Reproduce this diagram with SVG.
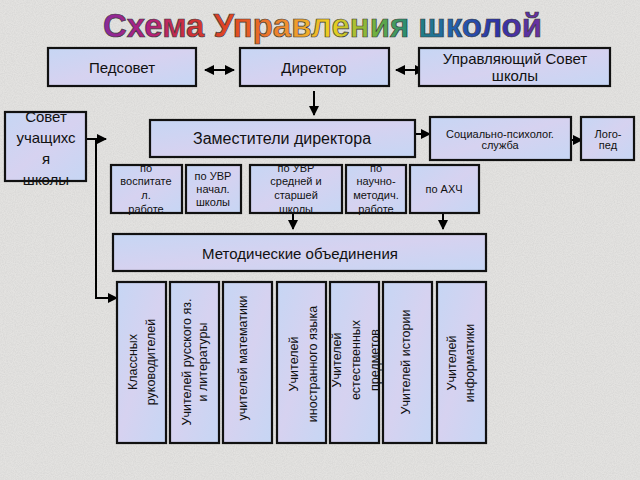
<svg xmlns="http://www.w3.org/2000/svg" width="640" height="480" viewBox="0 0 640 480">
<defs>
  <linearGradient id="rainbow" gradientUnits="userSpaceOnUse" x1="103" y1="0" x2="542" y2="0">
    <stop offset="0" stop-color="#8a2a9a"/>
    <stop offset="0.1" stop-color="#b02080"/>
    <stop offset="0.2" stop-color="#d03035"/>
    <stop offset="0.3" stop-color="#e44a20"/>
    <stop offset="0.42" stop-color="#f09030"/>
    <stop offset="0.52" stop-color="#eed020"/>
    <stop offset="0.62" stop-color="#70b040"/>
    <stop offset="0.7" stop-color="#208878"/>
    <stop offset="0.8" stop-color="#2060b0"/>
    <stop offset="0.9" stop-color="#3032a8"/>
    <stop offset="1" stop-color="#7030a0"/>
  </linearGradient>
  <linearGradient id="boxfill" x1="0" y1="0" x2="1" y2="1">
    <stop offset="0" stop-color="#c6d6f4"/>
    <stop offset="0.5" stop-color="#d6d2f0"/>
    <stop offset="1" stop-color="#c6d6f4"/>
  </linearGradient>
  <filter id="noise" x="0" y="0" width="100%" height="100%">
    <feTurbulence type="fractalNoise" baseFrequency="0.9" numOctaves="2" seed="3"/>
    <feColorMatrix type="matrix" values="0 0 0 0 0.5  0 0 0 0 0.5  0 0 0 0 0.5  0 0 0 -1.6 1.1"/>
  </filter>
  <marker id="ah" viewBox="0 0 10 10" refX="9" refY="5" markerWidth="10" markerHeight="10" markerUnits="userSpaceOnUse" orient="auto-start-reverse">
    <path d="M0,0 L10,5 L0,10 z" fill="#000"/>
  </marker>
  <style>
    .box { fill: url(#boxfill); stroke: #111; stroke-width: 2.2; }
    .t { font-family: "Liberation Sans", Arial, sans-serif; fill: #111; text-anchor: middle; dominant-baseline: central; }
    .big { font-size: 15px; }
    .mid { font-size: 16px; }
    .sm { font-size: 11px; }
    .rot { font-size: 12.5px; }
    .conn { stroke: #000; stroke-width: 2; fill: none; }
  </style>
</defs>

<rect width="640" height="480" fill="#e3e2e0"/>
<rect width="640" height="480" filter="url(#noise)" opacity="0.3"/>

<g id="title">
  <text x="103" y="37" textLength="439" lengthAdjust="spacingAndGlyphs" font-family="Liberation Sans, Arial, sans-serif" font-weight="bold" font-size="34" fill="url(#rainbow)" stroke="#3a3a3a" stroke-width="0.7">Схема Управления школой</text>
</g>

<g id="connectors">
  <line class="conn" x1="205" y1="70" x2="234" y2="70" marker-start="url(#ah)" marker-end="url(#ah)"/>
  <line class="conn" x1="396" y1="70" x2="424" y2="70" marker-start="url(#ah)" marker-end="url(#ah)"/>
  <line class="conn" x1="314" y1="91" x2="314" y2="115" marker-end="url(#ah)"/>
  <line class="conn" x1="416" y1="134" x2="430" y2="134" marker-end="url(#ah)"/>
  <line class="conn" x1="571" y1="140" x2="582" y2="140" marker-end="url(#ah)"/>
  <line class="conn" x1="86" y1="139" x2="106" y2="139" marker-end="url(#ah)"/>
  <polyline class="conn" points="96,139 96,298 117,298" marker-end="url(#ah)"/>
  <line class="conn" x1="293" y1="213" x2="293" y2="229" marker-end="url(#ah)"/>
  <line class="conn" x1="443" y1="213" x2="443" y2="229" marker-end="url(#ah)"/>
</g>

<g id="pedsovet">
  <rect class="box" x="48" y="48" width="148" height="38"/>
  <text class="t big" x="122" y="67">Педсовет</text>
</g>
<g id="director">
  <rect class="box" x="240" y="48" width="149" height="38"/>
  <text class="t big" x="314" y="67">Директор</text>
</g>
<g id="upr-sovet">
  <rect class="box" x="419" y="48" width="191" height="38"/>
  <text class="t big" x="515" y="58">Управляющий Совет</text>
  <text class="t big" x="515" y="75">школы</text>
</g>
<g id="sovet-uch">
  <rect class="box" x="5" y="112" width="81" height="69"/>
  <text class="t big" x="46" y="116">Совет</text>
  <text class="t big" x="46" y="137">учащихс</text>
  <text class="t big" x="46" y="158">я</text>
  <text class="t big" x="46" y="179">школы</text>
</g>
<g id="zam">
  <rect class="box" x="150" y="120" width="265" height="37"/>
  <text class="t mid" x="282" y="138">Заместители директора</text>
</g>
<g id="soc">
  <rect class="box" x="430" y="117" width="141" height="43"/>
  <text class="t sm" x="500" y="134">Социально-психолог.</text>
  <text class="t sm" x="500" y="145">служба</text>
</g>
<g id="logoped">
  <rect class="box" x="581" y="117" width="53" height="43"/>
  <text class="t sm" x="608" y="134">Лого-</text>
  <text class="t sm" x="608" y="145">пед</text>
</g>
<g id="z-vosp">
  <rect class="box" x="111" y="165" width="71" height="48"/>
  <text class="t sm" x="146" y="168">по</text>
  <text class="t sm" x="146" y="181">воспитате</text>
  <text class="t sm" x="146" y="195">л.</text>
  <text class="t sm" x="146" y="209">работе</text>
</g>
<g id="z-nach">
  <rect class="box" x="186" y="165" width="55" height="48"/>
  <text class="t sm" x="213" y="176">по УВР</text>
  <text class="t sm" x="213" y="189">начал.</text>
  <text class="t sm" x="213" y="202">школы</text>
</g>
<g id="z-sred">
  <rect class="box" x="250" y="165" width="92" height="48"/>
  <text class="t sm" x="296" y="168">по УВР</text>
  <text class="t sm" x="296" y="181">средней и</text>
  <text class="t sm" x="296" y="195">старшей</text>
  <text class="t sm" x="296" y="209">школы</text>
</g>
<g id="z-nauch">
  <rect class="box" x="346" y="165" width="60" height="48"/>
  <text class="t sm" x="376" y="168">по</text>
  <text class="t sm" x="376" y="181">научно-</text>
  <text class="t sm" x="376" y="195">методич.</text>
  <text class="t sm" x="376" y="209">работе</text>
</g>
<g id="z-ahch">
  <rect class="box" x="410" y="165" width="69" height="48"/>
  <text class="t sm" x="444" y="189">по АХЧ</text>
</g>
<g id="metod">
  <rect class="box" x="113" y="234" width="373" height="37"/>
  <text class="t big" x="300" y="253">Методические объединения</text>
</g>

<g id="mo-klass">
  <rect class="box" x="117" y="282" width="49" height="161"/>
  <text class="t rot" transform="translate(133,362) rotate(-90)">Классных</text>
  <text class="t rot" transform="translate(151,362) rotate(-90)">руководителей</text>
</g>
<g id="mo-rus">
  <rect class="box" x="170" y="282" width="49" height="161"/>
  <text class="t rot" transform="translate(187,362) rotate(-90)">Учителей русского яз.</text>
  <text class="t rot" transform="translate(203,362) rotate(-90)">и литературы</text>
</g>
<g id="mo-mat">
  <rect class="box" x="223" y="282" width="49" height="161"/>
  <text class="t rot" transform="translate(243,358) rotate(-90)">учителей математики</text>
</g>
<g id="mo-inyaz">
  <rect class="box" x="277" y="282" width="49" height="161"/>
  <text class="t rot" transform="translate(294,364) rotate(-90)">Учителей</text>
  <text class="t rot" transform="translate(313,364) rotate(-90)">иностранного языка</text>
</g>
<g id="mo-est">
  <rect class="box" x="330" y="282" width="49" height="161"/>
  <text class="t rot" transform="translate(337,360) rotate(-90)">Учителей</text>
  <text class="t rot" transform="translate(356,360) rotate(-90)">естественных</text>
  <text class="t rot" transform="translate(375,360) rotate(-90)">предметов</text>
</g>
<g id="mo-ist">
  <rect class="box" x="383" y="282" width="49" height="161"/>
  <text class="t rot" transform="translate(406,362) rotate(-90)">Учителей истории</text>
</g>
<g id="mo-inf">
  <rect class="box" x="437" y="282" width="49" height="161"/>
  <text class="t rot" transform="translate(452,363) rotate(-90)">Учителей</text>
  <text class="t rot" transform="translate(470,363) rotate(-90)">информатики</text>
</g>
</svg>
